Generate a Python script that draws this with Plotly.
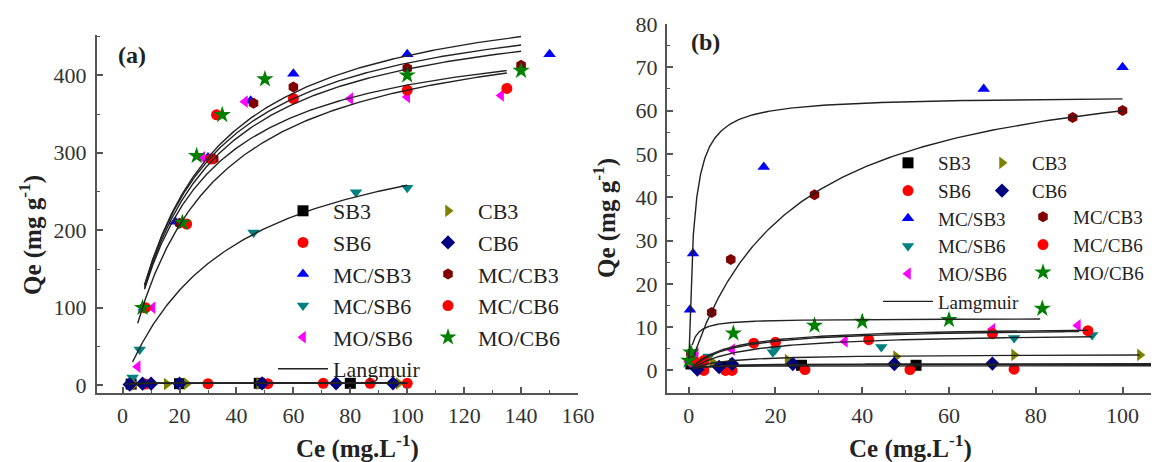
import numpy as np
import plotly.graph_objects as go

# The page body has an 8 px margin, so the figure is sized to fit the window
# and every reference position is shifted by OFF.
OFF = 8
W, H = 1159 - OFF, 462 - OFF
FONT = "Liberation Serif, Times New Roman, serif"

# ---------------- series styles ----------------
names = ["SB3", "SB6", "MC/SB3", "MC/SB6", "MO/SB6", "CB3", "CB6", "MC/CB3", "MC/CB6", "MO/CB6"]
colors = ["#000000", "#ff0000", "#0000ff", "#008080", "#ff00ff",
          "#808000", "#000080", "#800000", "#ff0000", "#008000"]
symbols = ["square", "circle", "triangle-up", "triangle-down", "triangle-left",
           "triangle-right", "diamond", "hexagon", "circle", "star"]

# ---------------- panel (a) data ----------------
a_SB3_ce = [3, 20, 48, 80]
a_SB3_qe = [1.5, 2, 2.5, 2.5]
a_SB6_ce = [3, 8, 30, 51, 70.5, 87, 100]
a_SB6_qe = [1, 1.5, 2, 2, 2.5, 2.5, 2.5]
a_MCSB3_ce = [7.5, 18.5, 30, 45, 60, 100, 150]
a_MCSB3_qe = [100, 211, 294, 367, 402, 427, 427]
a_MCSB6_ce = [3.5, 6, 46, 82, 100]
a_MCSB6_qe = [10, 46, 197, 249, 255]
a_MOSB6_ce = [5.3, 10.5, 28, 43, 80, 100, 133]
a_MOSB6_qe = [24, 100, 294, 366, 370, 372, 374]
a_CB3_ce = [4, 15.5, 22.5, 48, 97]
a_CB3_qe = [1, 1.5, 2, 2, 2.5]
a_CB6_ce = [2.5, 7, 10, 20, 49, 75, 95]
a_CB6_qe = [1, 2, 2, 2, 2.5, 2.5, 2.5]
a_MCCB3_ce = [7.5, 20, 32, 46, 60, 100, 140]
a_MCCB3_qe = [100, 209, 292, 364, 385, 409, 413]
a_MCCB6_ce = [8, 22.5, 31, 33, 60, 100, 135]
a_MCCB6_qe = [100, 208, 292, 349, 370, 381, 383]
a_MOCB6_ce = [7, 21, 26, 35, 50, 100, 140]
a_MOCB6_qe = [100, 210, 296, 349, 395, 400, 406]

# Langmuir fits, panel (a): qm, KL and Ce span of each fitted curve
a_fit_qm = [526.2, 510.4, 501.7, 470.8, 482.6, 356.2, 3.0, 2.8, 3.2, 3.0]
a_fit_K = [0.04218, 0.04393, 0.04356, 0.04644, 0.03749, 0.02628, 0.8, 0.6, 0.5, 0.7]
a_fit_cmin = [7.7, 7.7, 7.7, 7.7, 5.3, 3.5, 1, 1, 1, 1]
a_fit_cmax = [140, 140, 140, 135, 135, 100, 100, 100, 100, 100]

# ---------------- panel (b) data ----------------
b_SB3_ce = [0.5, 8, 26, 52.4]
b_SB3_qe = [1.5, 0.8, 1.2, 1.2]
b_SB6_ce = [0.8, 3.5, 8.5, 10, 26.8, 51, 75]
b_SB6_qe = [2.5, 0, 0, 0, 0.2, 0.2, 0.3]
b_MCSB3_ce = [0.3, 1.0, 17.3, 68, 100]
b_MCSB3_qe = [14, 27, 47, 65, 70]
b_MCSB6_ce = [1, 4.6, 19.4, 20, 44.4, 75, 93]
b_MCSB6_qe = [3.5, 3.2, 4.2, 4.9, 5.4, 7.5, 8.2]
b_MOSB6_ce = [0, 1.6, 10, 36, 70, 89.7]
b_MOSB6_qe = [2, 4, 4.8, 6.7, 9.5, 10.4]
b_CB3_ce = [0.5, 5.5, 10, 22.8, 47.8, 75, 104]
b_CB3_qe = [2.5, 1.9, 1.6, 2.4, 3.2, 3.6, 3.6]
b_CB6_ce = [2, 7, 10, 24, 47.4, 70, 108.5]
b_CB6_qe = [0.2, 0.8, 1.5, 1.5, 1.5, 1.6, 1.3]
b_MCCB3_ce = [0.5, 5.3, 9.7, 29, 88.5, 100]
b_MCCB3_qe = [4, 13.4, 25.6, 40.6, 58.4, 60]
b_MCCB6_ce = [1.6, 3.5, 15, 20, 41.5, 70, 92]
b_MCCB6_qe = [1.9, 2.3, 6.3, 6.5, 7.1, 8.5, 9.2]
b_MOCB6_ce = [0, 0.5, 10.3, 29, 40, 60, 81.5]
b_MOCB6_qe = [2.3, 4.2, 8.6, 10.4, 11.3, 11.7, 14.3]

b_fit_qm = [63.4, 74.0, 12.0, 10.19, 9.93, 8.81, 3.8, 1.4, 1.1, 1.6]
b_fit_K = [0.913, 0.0428, 1.2, 0.1137, 0.1071, 0.0831, 0.15, 0.5, 0.8, 0.3]
b_fit_cmin = [0.05, 1.0, 0.8, 1, 1, 1, 1, 1, 1, 1]
b_fit_cmax = [100, 100, 81, 92, 90, 93, 104, 110, 110, 110]

a_data = [(a_SB3_ce, a_SB3_qe), (a_SB6_ce, a_SB6_qe), (a_MCSB3_ce, a_MCSB3_qe),
          (a_MCSB6_ce, a_MCSB6_qe), (a_MOSB6_ce, a_MOSB6_qe), (a_CB3_ce, a_CB3_qe),
          (a_CB6_ce, a_CB6_qe), (a_MCCB3_ce, a_MCCB3_qe), (a_MCCB6_ce, a_MCCB6_qe),
          (a_MOCB6_ce, a_MOCB6_qe)]
b_data = [(b_SB3_ce, b_SB3_qe), (b_SB6_ce, b_SB6_qe), (b_MCSB3_ce, b_MCSB3_qe),
          (b_MCSB6_ce, b_MCSB6_qe), (b_MOSB6_ce, b_MOSB6_qe), (b_CB3_ce, b_CB3_qe),
          (b_CB6_ce, b_CB6_qe), (b_MCCB3_ce, b_MCCB3_qe), (b_MCCB6_ce, b_MCCB6_qe),
          (b_MOCB6_ce, b_MOCB6_qe)]

a_legends = ["legend"] * 5 + ["legend2"] * 5
b_legends = ["legend3"] * 5 + ["legend4"] * 2 + ["legend5"] * 3

fig = go.Figure()


def add_points(data, legends, xa, ya):
    for i, (ce, qe) in enumerate(data):
        size = 13 if symbols[i] == "star" else 11
        fig.add_trace(go.Scatter(
            x=ce, y=qe, mode="markers", name=names[i], legend=legends[i],
            marker=dict(symbol=symbols[i], color=colors[i], size=size, line=dict(width=0)),
            xaxis=xa, yaxis=ya, cliponaxis=True))


def add_fits(qm, K, cmin, cmax, label, legend, xa, ya):
    for j in range(len(qm)):
        c = np.geomspace(cmin[j], cmax[j], 300)
        q = qm[j] * K[j] * c / (1 + K[j] * c)
        fig.add_trace(go.Scatter(
            x=c, y=q, mode="lines", name=label, legend=legend, showlegend=(j == 0),
            line=dict(color="#222222", width=1.4), xaxis=xa, yaxis=ya))


add_points(a_data, a_legends, "x", "y")
add_fits(a_fit_qm, a_fit_K, a_fit_cmin, a_fit_cmax, "Langmuir", "legend", "x", "y")
add_points(b_data, b_legends, "x2", "y2")
add_fits(b_fit_qm, b_fit_K, b_fit_cmin, b_fit_cmax, "Lamgmuir", "legend3", "x2", "y2")

axis_common = dict(
    showline=True, linecolor="#555555", linewidth=2, showgrid=False, zeroline=False,
    ticks="inside", ticklen=6, tickwidth=1.5, tickcolor="#555555", automargin=False,
    tickfont=dict(family=FONT, size=22, color="#333333"), mirror=False,
)


def px_x(p):
    return (p - OFF) / W


def px_y(p):
    return 1 - (p - OFF) / H


minor_style = dict(ticks="inside", ticklen=3, tickcolor="#555555", tickwidth=1.2)
fig.update_layout(
    width=W, height=H, margin=dict(l=0, r=0, t=0, b=0, autoexpand=False),
    paper_bgcolor="white", plot_bgcolor="white",
    xaxis=dict(axis_common, domain=[px_x(97), px_x(578)], range=[-9, 160], dtick=20, tick0=0,
               ticklabelstandoff=2, minor=dict(minor_style, dtick=10), anchor="y"),
    yaxis=dict(axis_common, domain=[px_y(393), px_y(35)], range=[-10, 452], dtick=100, tick0=0,
               ticklabelstandoff=4, minor=dict(minor_style, dtick=50), anchor="x"),
    xaxis2=dict(axis_common, domain=[px_x(667), 1.0], range=[-5, 108.4], dtick=20, tick0=0,
                ticklabelstandoff=2, minor=dict(minor_style, dtick=10), anchor="y2"),
    yaxis2=dict(axis_common, domain=[px_y(393), px_y(24)], range=[-5.2, 80], dtick=10, tick0=0,
                ticklabelstandoff=3, minor=dict(minor_style, dtick=5), anchor="x2"),
    showlegend=True,
)

leg_common = dict(bgcolor="rgba(0,0,0,0)", borderwidth=0, xanchor="left", yanchor="top",
                  orientation="v", tracegroupgap=0, itemwidth=50, traceorder="normal")
fa = dict(family=FONT, size=22, color="#222")
fb = dict(family=FONT, size=19, color="#222")
fig.update_layout(
    legend=dict(leg_common, x=px_x(273), y=px_y(190), font=fa),
    legend2=dict(leg_common, x=px_x(418), y=px_y(190), font=fa),
    legend3=dict(leg_common, x=px_x(878), y=px_y(144), font=fb),
    legend4=dict(leg_common, x=px_x(972), y=px_y(144), font=fb),
    legend5=dict(leg_common, x=px_x(1013), y=px_y(198), font=fb),
)

title_font = dict(family=FONT, size=25, color="#222222")
annotations = [
    dict(text="<b>(a)</b>", x=px_x(132), y=px_y(55), font=dict(family=FONT, size=24, color="#222")),
    dict(text="<b>(b)</b>", x=px_x(705), y=px_y(42), font=dict(family=FONT, size=24, color="#222")),
    dict(text="<b>Ce (mg.L<sup>-1</sup>)</b>", x=px_x(357), y=px_y(446), font=title_font),
    dict(text="<b>Ce (mg.L<sup>-1</sup>)</b>", x=px_x(910), y=px_y(446), font=title_font),
    dict(text="<b>Qe (mg g<sup>-1</sup>)</b>", x=px_x(30), y=px_y(235), textangle=-90, font=title_font),
    dict(text="<b>Qe (mg g<sup>-1</sup>)</b>", x=px_x(604), y=px_y(218), textangle=-90, font=title_font),
]
for a in annotations:
    fig.add_annotation(xref="paper", yref="paper", showarrow=False, xanchor="center",
                       yanchor="middle", **a)

fig.write_html("out.html")
